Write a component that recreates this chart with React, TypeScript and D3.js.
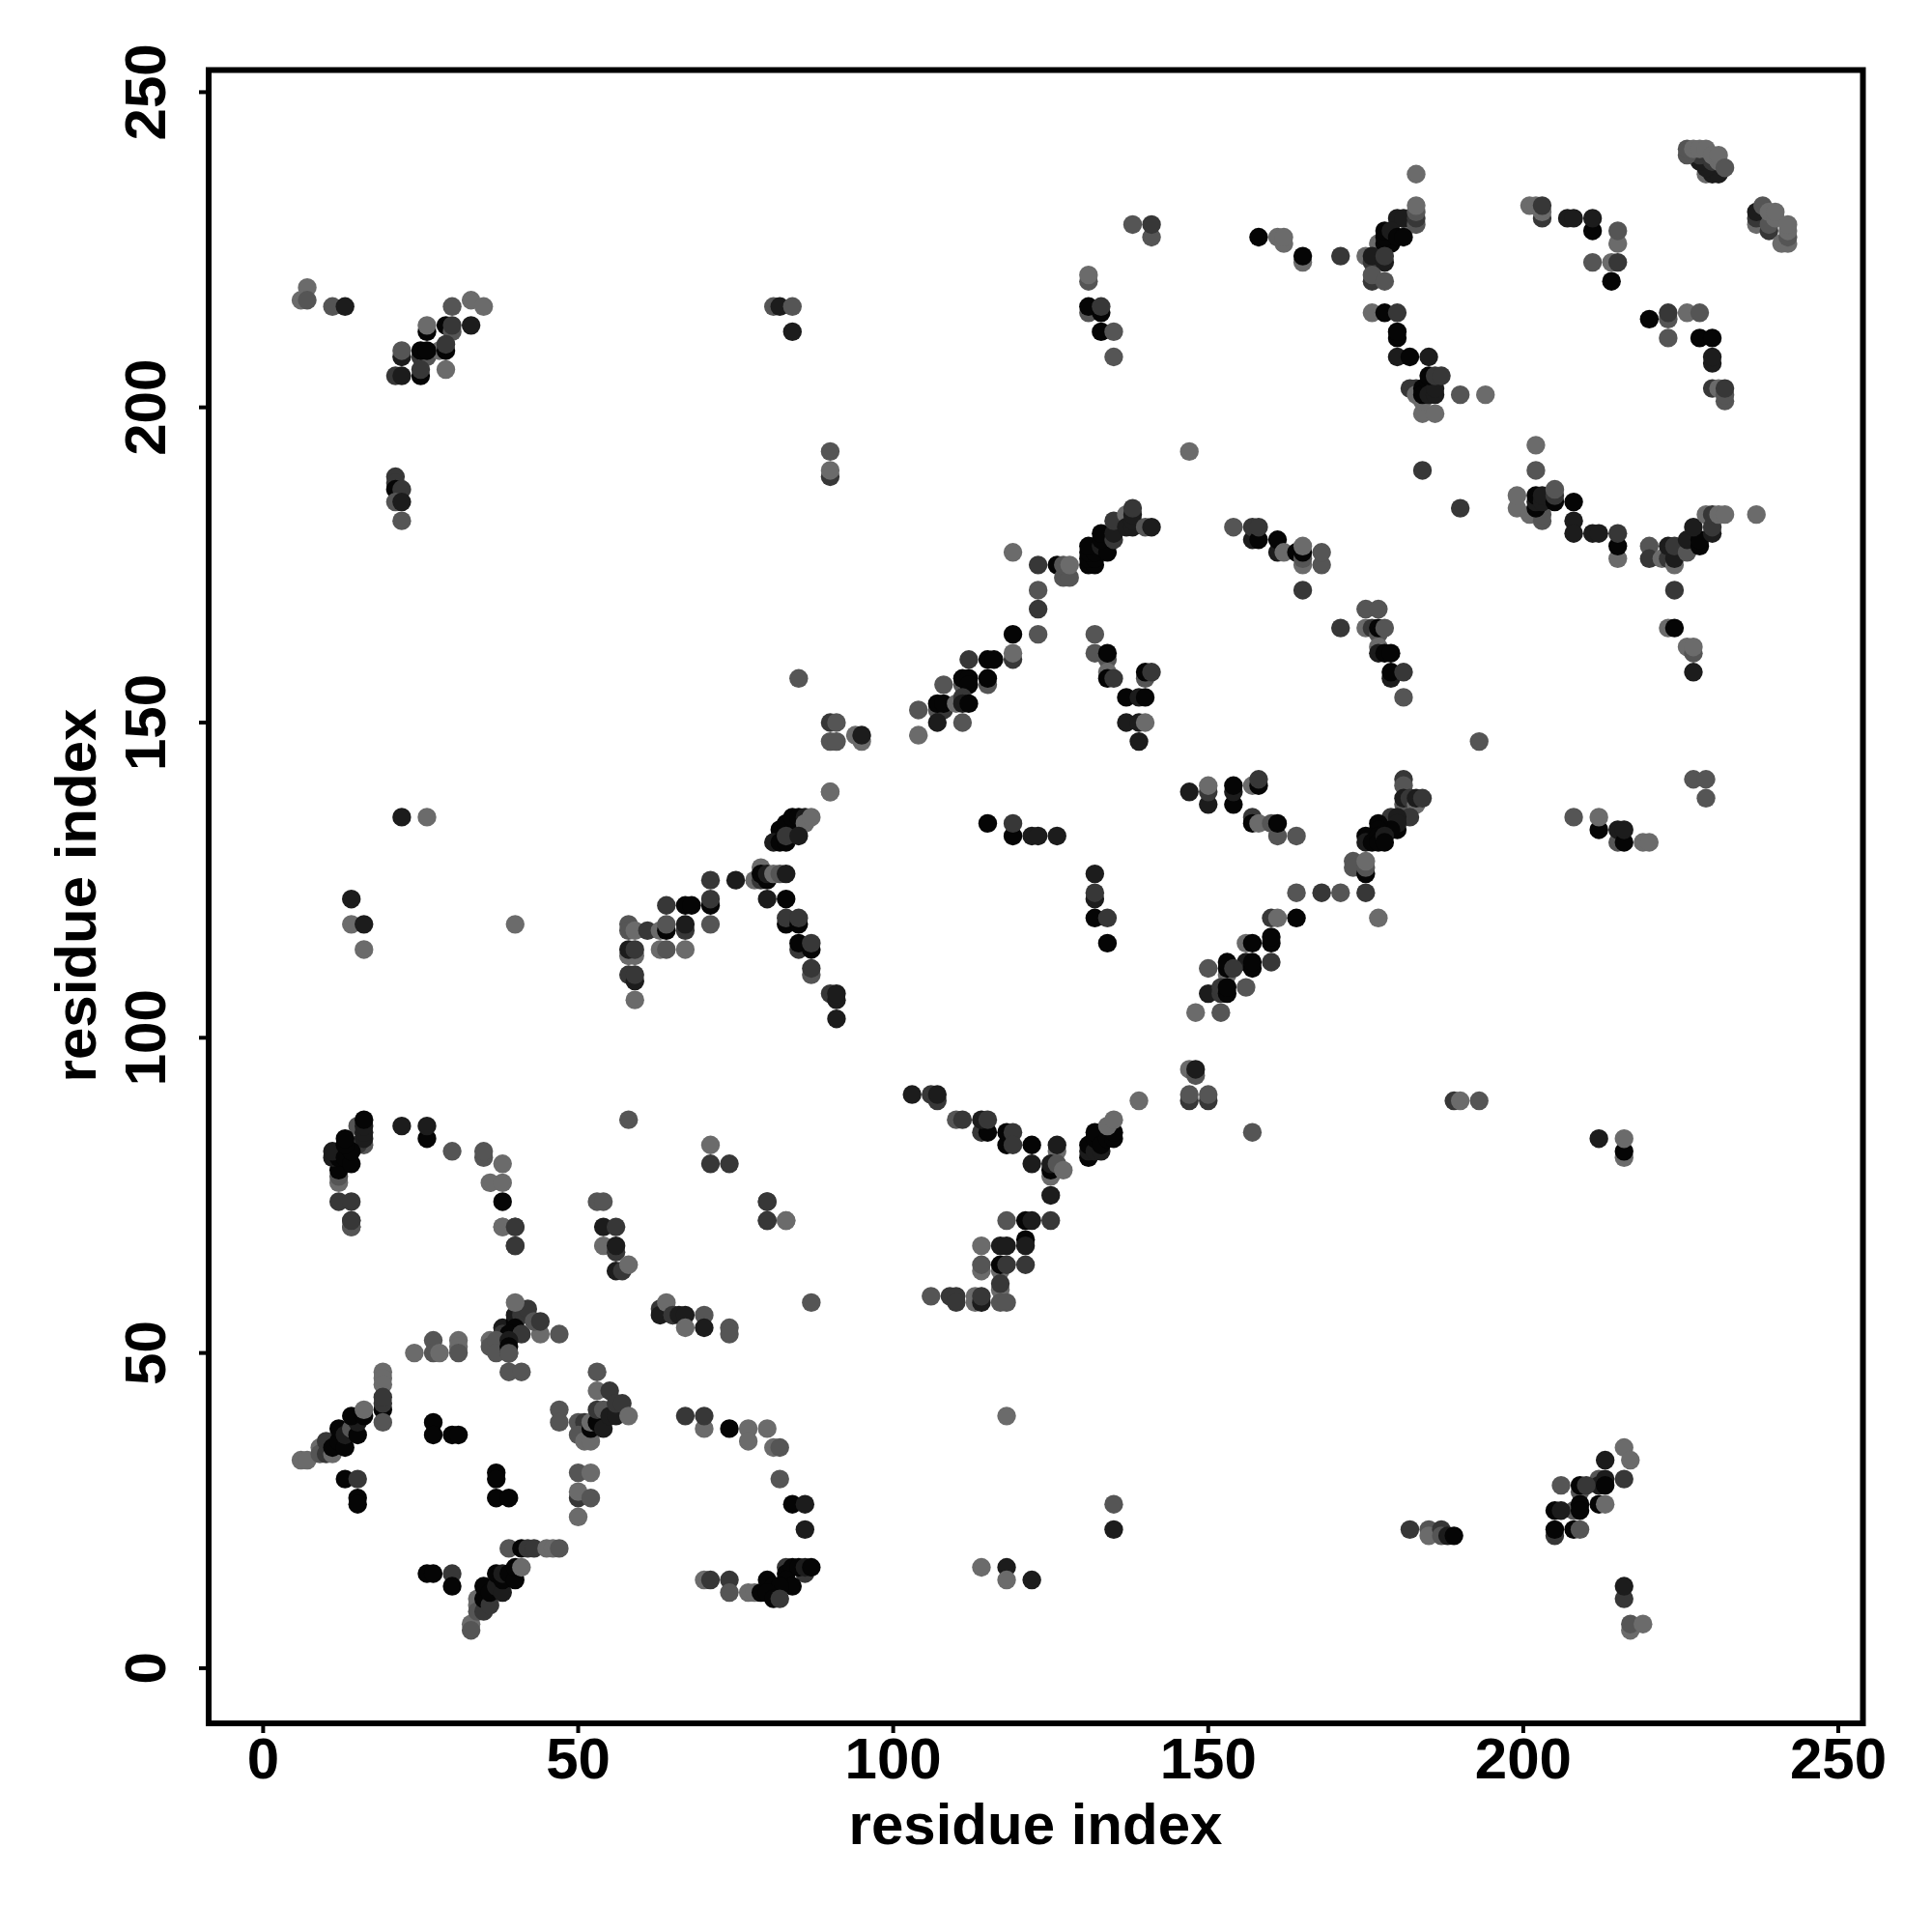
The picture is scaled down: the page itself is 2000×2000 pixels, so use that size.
import React from "react";
import * as d3 from "d3";

// gray levels of the markers
const K = 5, N = 28, D = 55, M = 85, L = 107;
type P = [number, number, number];

const xTicks = [0, 50, 100, 150, 200, 250];
const yTicks = [0, 50, 100, 150, 200, 250];
const axisTitle = "residue index";

const bottomLeft: P[] = [
  [14,71,D],[14,70,M],[38,70,L],[40,70,D],[40,67,D],[54,70,N],[56,70,D],[54,67,L],[56,66,D],[56,67,N],[56,63,N],[57,63,D],[58,64,L],
  [63,57,D],[63,56,N],[65,56,D],[64,58,L],
  [38,54,N],[38,53,D],[40,55,K],[40,56,N],[41,56,D],[42,57,D],[40,54,K],[39,53,K],[41,53,D],[44,53,L],[43,55,M],[44,55,D],[47,53,M],[40,58,L],
  [36,52,L],[36,51,M],[37,52,M],[37,50,M],[39,52,N],[39,51,K],[39,50,D],[39,49.9,M],[39,47,M],[41,47,M],
  [24,50,L],[27,52,M],[27,50,M],[28,50,L],[31,52,L],[31,51,L],[31,50,M],
  [19,47,L],[19,46,L],[19,45,L],[19,41,K],[19,42,D],[19,43,D],[19,39,M],
  [6,33,L],[7,33,L],[9,35,L],[9,34,M],[10,36,D],[10,34,D],[11,34,L],[11,35,K],[12,36,K],[13,35,K],[12,38,K],[13,37,N],[14,38,M],[15,37,K],[15,39,N],[14,40,K],[16,40,K],[16,41,L],
  [13,30,K],[15,30,D],[15,27,K],[15,26,K],[27,39,K],[27,37,K],[30,37,K],[31,37,K],
  [37,31,K],[37,30,K],[37,27,K],[39,27,K],
  [47,41,M],[47,39,M],[50,31,M],[52,31,L],[50,27,D],[50,28,L],[52,27,M],[50,24,L],
  [53,47,M],[53,44,L],[55,44,D],[50,39,M],[51,39,D],[50,37,M],[51,36,L],[52,36,L],[52,38,K],[52,39,L],[53,39,K],[54,38,N],[53,41,D],[54,41,M],[55,40,N],[56,40,N],[56,42,D],[57,42,D],[58,40,L],
  [39,19,M],[41,19,K],[42,19,D],[43,19,D],[45,19,L],[46,19,L],[47,19,M],
  [33,7,L],[33,6,M],[34,11,L],[34,10,L],[34,9,M],[35,9,D],[35,11,K],[35,13,K],[36,10,D],[36,12,K],[37,13,N],[38,12,N],[37,15,K],[38,14,K],[38,15,N],[39,15,K],[40,14,K],[40,16,K],[41,16,L],
  [26,15,K],[27,15,K],[30,15,D],[30,13,K],
];

const bottomMiddle: P[] = [
  [80,74,D],[80,71,D],[83,71,L],[118,71,M],[121,71,K],[122,71,N],[125,71,D],
  [114,67,L],[117,67,N],[118,67,N],[121,68,K],[121,67,N],
  [114,63,L],[114,64,M],[117,63,L],[117,64,K],[118,64,D],[121,64,D],[117,60,L],[117,61,D],
  [106,59,M],[109,59,D],[110,59,D],[110,58,D],[113,59,L],[113,58,L],[114,58,N],[114,59,D],[117,58,M],[118,58,M],
  [87,58,M],[65,56,D],[66,56,N],[67,56,N],[67,54,L],[70,56,M],[70,54,N],[74,54,M],[74,53,M],
  [67,40,D],[70,38,L],[70,40,D],[74,38,K],[77,38,L],[80,38,L],[77,36,L],[81,35,L],[82,35,M],[82,30,M],[84,26,K],[86,26,N],[86,22,N],[118,40,L],
  [70,14,L],[71,14,D],[74,14,D],[74,12,M],[77,12,L],[78,12,L],[79,12,K],
  [83,16,D],[83,15,K],[86,15,D],[84,16,K],[85,16,K],[86,16,N],[87,16,K],[80,14,K],[83,14,K],[84,13,K],[81,13,K],[82,13,K],[80,12,K],[81,11,K],[82,11,D],
  [135,26,M],[135,22,N],[114,16,L],[118,16,N],[118,14,L],[122,14,N],
  [182,22,D],[185,22,M],[185,21,L],[187,22,D],[187,21,M],[188,21,N],[189,21,K],
  [212,30,M],[212,29,N],[216,35,L],[217,33,L],[213,33,N],[216,30,D],[213,30,N],[213,29,K],
  [206,29,M],[209,28,M],[209,29,K],[210,29,D],[212,26,K],[213,26,L],[208,25,M],[209,26,K],[209,25,K],[205,25,K],[206,25,N],
  [205,21,D],[205,22,K],[208,22,K],[209,22,M],[216,11,D],[216,13,N],[217,6,L],[217,7,M],[219,7,L],
];

const middleLeft: P[] = [
  [22,135,N],[26,135,L],[14,122,N],[14,118,L],[16,118,N],[40,118,L],[16,114,L],
  [58,118,M],[58,117,M],[59,117,L],[61,117,D],[63,117,L],[64,121,D],[64,117,K],[64,118,M],[63,114,L],[64,114,M],
  [58,113,L],[59,113,L],[58,114,N],[59,114,D],[58,110,D],[59,109,N],[59,110,D],[59,106,L],
  [16,83,M],[15,83,D],[15,86,M],[16,84,N],[16,85,N],[16,86,N],[16,87,K],[12,77,L],[12,78,M],[12,79,K],[11,81,N],[12,81,K],[11,82,N],[13,81,K],[14,80,K],[14,82,K],[13,83,K],[13,84,K],
  [22,86,N],[26,84,K],[26,86,N],[30,82,M],[35,81,M],[35,82,M],[38,80,L],[36,77,L],[38,77,L],[38,74,K],[12,74,D],[14,74,D],[14,70,M],[14,71,D],
  [38,70,L],[40,70,D],[40,67,D],[58,87,M],[53,74,M],[54,74,M],
];

const middleCentre: P[] = [
  [90,139,L],[82,133,K],[83,133,K],[84,133,D],[85,134,K],[83,134,K],[84,135,K],[85,135,K],[86,135,N],[86,134,L],[87,135,L],
  [81,131,N],[82,131,K],[83,131,K],[83,132,D],[85,132,N],
  [78,125,L],[79,125,D],[80,125,K],[79,127,L],[79,126,K],[80,126,N],[81,126,L],[82,126,M],[83,126,N],
  [75,125,N],[71,125,D],[71,121,K],[71,122,D],[67,121,K],[68,121,K],[67,117,D],[67,118,N],[71,118,M],[67,114,L],
  [80,122,N],[83,122,K],[83,118,K],[83,119,D],[85,118,K],[85,119,D],[85,114,D],[85,115,K],[87,114,K],[87,115,D],[87,110,M],[87,111,D],
  [90,107,D],[91,106,N],[91,107,N],[91,103,N],
  [115,134,K],[119,132,K],[119,134,D],[122,132,N],[123,132,N],[126,132,N],
  [132,126,N],[132,122,N],[132,123,D],[132,119,K],[134,119,D],[134,115,K],
  [103,91,N],[106,91,D],[107,90,D],[107,91,N],[110,87,M],[111,87,D],[114,85,D],[115,85,K],[114,87,N],[115,87,D],
  [118,83,K],[118,85,K],[119,85,D],[119,83,D],[122,83,K],[122,80,N],[126,82,L],[126,83,N],[125,78,L],[125,79,K],[125,80,N],[126,80,M],[127,79,L],[125,75,N],
  [131,81,K],[131,82,N],[131,83,K],[132,82,N],[132,84,K],[132,85,K],[133,82,N],[133,83,K],[134,84,K],[135,84,K],[135,85,K],[134,86,L],[135,87,L],[139,90,L],
  [71,83,L],[71,80,D],[74,80,D],[80,74,D],[80,71,D],[83,71,L],
  [147,139,N],[150,137,N],[150,139,D],[150,140,L],[154,137,K],[154,139,N],[154,140,K],[157,140,L],[158,140,K],[158,141,D],
  [157,135,D],[157,134,K],[158,134,L],[160,134,M],[161,132,M],[161,134,K],[164,132,M],
  [181,141,D],[181,140,M],[181,137,M],[181,138,N],[182,138,D],[183,137,L],[183,138,N],[184,138,D],[182,135,D],
  [179,135,D],[180,135,N],[180,133,K],[180,134,N],[179,133,K],[177,134,K],[177,133,K],[175,132,K],[175,131,N],[176,131,K],[177,132,K],[177,131,K],[178,132,N],[178,131,K],
  [173,128,M],[173,127,M],[175,126,K],[175,127,M],[175,128,L],[164,123,M],[168,123,D],[171,123,M],[175,123,D],[177,119,L],[160,119,D],[161,119,L],[164,119,K],
  [160,115,K],[160,116,K],[156,115,L],[157,115,K],[160,112,D],[156,112,N],[157,111,K],[157,112,K],[153,110,L],[153,111,K],[153,112,K],[154,111,D],[150,111,M],
  [150,107,N],[152,107,D],[152,108,D],[153,107,K],[153,108,K],[156,108,M],[148,104,L],[152,104,M],
  [147,95,L],[148,94,M],[148,95,N],[147,90,D],[147,91,M],[150,90,D],[150,91,M],[157,85,M],
  [189,90,D],[190,90,L],[193,90,M],[193,147,M],
  [208,135,M],[212,133,K],[212,135,L],[215,131,M],[215,133,N],[216,131,K],[216,133,N],[219,131,L],[220,131,L],
  [212,84,N],[216,81,L],[216,82,K],[216,84,L],
  [227,141,M],[229,141,M],[229,138,M],
];

const upperCentre: P[] = [
  [90,193,M],[90,189,D],[90,190,L],[85,157,M],[90,150,D],[91,150,M],[90,147,M],[91,147,M],[94,148,L],[95,147,L],[95,148,N],[90,139,L],
  [147,193,L],[119,177,L],[123,175,D],[126,175,K],[127,173,M],[128,173,M],[127,175,M],[128,175,L],
  [123,171,M],[123,168,D],[123,164,M],[119,164,K],[119,160,D],[119,161,L],[115,160,K],[116,160,K],[112,160,D],
  [111,156,M],[111,157,K],[112,157,K],[112,156,K],[115,156,M],[115,157,K],[108,156,M],
  [104,152,M],[107,152,M],[108,152,D],[107,153,K],[108,153,K],[110,153,L],[111,154,D],[111,153,N],[112,153,K],[107,150,N],[111,150,M],[104,148,L],
  [131,175,K],[132,175,K],[131,176,K],[132,176,K],[131,177,K],[132,177,K],[131,178,K],[133,178,N],[134,177,K],[133,179,K],[133,180,K],[135,179,D],[135,180,N],[135,182,D],
  [137,183,L],[137,181,N],[138,181,N],[138,182,N],[138,183,N],[138,184,D],[140,181,M],[141,181,N],
  [132,164,M],[132,161,M],[134,160,M],[134,161,K],[134,158,L],[134,157,K],[135,157,D],[140,157,M],[140,158,K],[141,158,D],
  [137,154,K],[139,154,N],[140,154,K],[137,150,N],[139,150,N],[140,150,L],[139,147,N],
  [154,181,M],[157,179,N],[157,181,D],
];

const upperRight: P[] = [
  [183,237,L],[182,229,L],[180,230,N],[181,230,N],[183,229,M],[183,230,D],[183,231,M],[183,232,L],
  [177,226,L],[178,226,K],[179,226,K],[178,227,K],[178,228,K],[179,228,N],[180,227,K],[181,227,K],
  [175,224,L],[176,223,D],[176,224,N],[178,223,N],[178,224,D],[176,220,D],[176,221,M],[178,220,M],[171,224,D],
  [165,223,L],[165,224,K],[158,227,K],[161,227,L],[162,226,L],[162,227,L],
  [176,215,L],[178,215,K],[180,215,D],[180,211,K],[180,212,K],[180,208,N],[182,208,K],[185,208,N],
  [182,203,D],[183,203,D],[183,202,L],[184,199,L],[186,199,L],[184,201,L],[184,203,K],[184,202,K],[185,204,K],[185,202,N],[186,202,N],[186,203,N],[185,205,K],[186,205,D],[187,205,D],[190,202,M],[194,202,L],
  [201,232,L],[202,232,L],[203,230,D],[203,231,L],[203,232,D],[207,230,N],[208,230,N],[211,228,K],[211,230,N],[215,226,L],[215,228,M],
  [211,223,M],[214,223,L],[215,223,D],[214,220,K],
  [220,214,K],[223,214,M],[223,215,D],[223,211,M],[226,215,L],[228,215,M],[228,211,K],[230,211,K],[230,207,N],[230,208,N],
  [230,203,D],[231,203,L],[232,201,M],[232,202,M],[232,203,D],
  [229,237,L],[230,237,N],[231,237,N],[229,238,N],[228,239,N],[228,240,D],[226,240,M],[226,241,M],[227,241,L],[228,241,L],[229,241,L],[230,239,D],[230,240,L],[231,239,L],[231,240,L],[232,238,M],
  [237,229,L],[237,230,D],[237,231,N],[238,232,M],[239,228,D],[239,229,M],[239,231,L],[240,230,L],[240,231,L],[241,226,L],[242,226,L],[242,227,M],[242,228,L],[242,229,L],
  [202,194,L],[202,190,M],[184,190,D],[190,184,D],
  [199,184,L],[199,186,L],[201,183,L],[203,182,M],[203,183,M],[202,184,K],[202,185,N],[202,186,K],[203,185,N],[203,186,N],[205,185,K],[205,186,D],[205,187,M],
  [208,185,K],[208,182,N],[208,180,N],[211,180,N],[212,180,N],[215,176,L],[215,178,K],[215,180,D],
  [220,178,M],[220,176,D],[222,176,L],[223,176,D],[224,175,L],[224,176,N],[223,178,N],[224,178,D],[224,171,D],
  [223,165,L],[224,165,K],[226,162,L],[227,161,M],[227,162,L],[227,158,N],
  [226,177,M],[226,179,N],[228,178,K],[228,179,K],[227,181,N],[229,183,L],[230,180,N],[230,181,D],[230,183,D],[231,183,L],[232,183,L],[237,183,L],
  [158,179,K],[158,181,D],[161,177,N],[161,179,K],[162,177,L],[164,177,K],[165,175,L],[165,176,M],[165,177,K],[165,178,L],[168,175,M],[168,177,M],[165,171,D],
  [175,168,M],[177,168,M],[171,165,D],[175,165,L],[176,165,D],[177,164,M],[177,165,K],[178,165,M],[177,162,L],[177,161,N],[178,161,K],[179,161,K],[179,157,N],[179,158,K],[181,158,D],[181,154,M],
];

const upperLeft: P[] = [
  [6,217,L],[7,219,L],[7,217,M],[11,216,M],[13,216,N],
  [30,216,M],[33,217,L],[35,216,L],[26,212,K],[26,213,L],[29,213,K],[30,212,M],[30,213,D],[33,213,N],
  [25,208,D],[26,208,M],[28,209,L],[29,209,K],[29,210,D],[22,208,N],[22,209,M],[25,209,K],[26,209,K],[29,206,L],
  [25,205,K],[25,206,D],[21,205,D],[22,205,N],
  [21,189,D],[21,188,D],[21,187,K],[22,187,D],[21,185,M],[22,185,N],[22,182,M],
  [81,216,M],[82,216,N],[84,216,M],[84,212,N],
  [138,229,M],[141,227,M],[141,229,D],[131,220,M],[131,221,L],[131,215,M],[131,216,K],[133,215,K],[133,216,D],[133,212,K],[135,212,M],[135,208,M],
];

const regions = [bottomLeft, bottomMiddle, middleLeft, middleCentre, upperCentre, upperRight, upperLeft];

const FONT = "'Liberation Sans', Arial, sans-serif";

export default function App() {
  const x = d3.scaleLinear().domain([0, 250]).range([272.4, 1903]);
  const y = d3.scaleLinear().domain([0, 250]).range([1726.9, 95.4]);
  const frame = { left: 216, right: 1928.5, top: 72.5, bottom: 1784 };
  const gray = (g: number) => d3.rgb(g, g, g).formatHex();
  return (
    <svg width={2000} height={2000} style={{ position: "absolute", left: 0, top: 0, background: "#fff" }}>
      {regions.map((pts, i) => (
        <g key={i}>
          {pts.map((p, j) => (
            <circle key={j} cx={x(p[0])} cy={y(p[1])} r={9.7} fill={gray(p[2])} />
          ))}
        </g>
      ))}
      <rect x={frame.left} y={frame.top} width={frame.right - frame.left} height={frame.bottom - frame.top}
        fill="none" stroke="#000" strokeWidth={6} />
      {xTicks.map((t) => (
        <g key={t}>
          <line x1={x(t)} x2={x(t)} y1={frame.bottom} y2={frame.bottom + 10} stroke="#000" strokeWidth={4} />
          <text x={x(t)} y={1841} textAnchor="middle" fontFamily={FONT} fontWeight="bold" fontSize={60}>{t}</text>
        </g>
      ))}
      {yTicks.map((t) => (
        <g key={t}>
          <line x1={frame.left} x2={frame.left - 10} y1={y(t)} y2={y(t)} stroke="#000" strokeWidth={4} />
          <text transform={`translate(171,${y(t)}) rotate(-90)`} textAnchor="middle" fontFamily={FONT} fontWeight="bold" fontSize={60}>{t}</text>
        </g>
      ))}
      <text x={1072} y={1909} textAnchor="middle" fontFamily={FONT} fontWeight="bold" fontSize={60}>{axisTitle}</text>
      <text transform={`translate(99,927) rotate(-90)`} textAnchor="middle" fontFamily={FONT} fontWeight="bold" fontSize={60}>{axisTitle}</text>
    </svg>
  );
}
